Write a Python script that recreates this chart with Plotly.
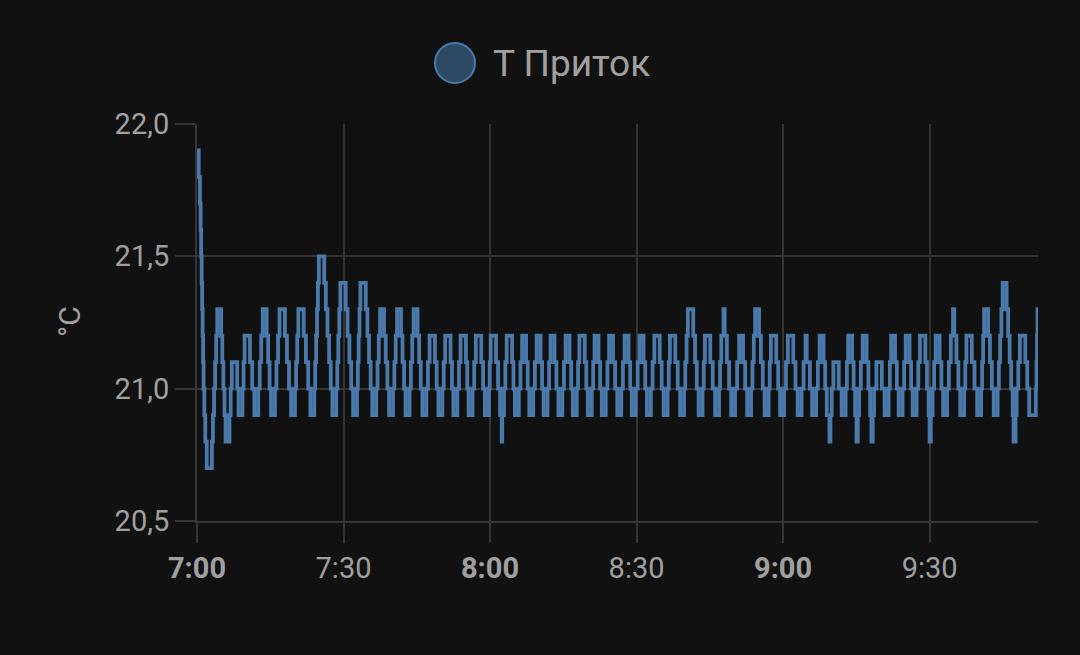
import pandas as pd
import plotly.graph_objects as go

# Change points of the sensor reading: minutes after 7:00 and temperature (°C)
minutes = [
    0.05, 0.35, 0.6, 0.75, 0.85, 0.95, 1.05, 1.15, 1.25, 1.35, 1.5, 1.7, 2.0,
    3.05, 3.27, 3.49, 3.71, 3.93, 4.15, 4.95, 5.18, 5.4, 5.63, 5.85,
    6.65, 6.89, 7.13, 8.23, 8.51,
    9.31, 9.53, 9.75, 10.85, 11.3, 11.74,
    12.54, 12.85, 13.15, 13.46, 14.26, 14.56, 14.86, 15.16,
    15.96, 16.27, 16.59, 16.9, 18.0, 18.42, 18.84, 19.26,
    20.06, 20.29, 20.52, 20.75, 21.85, 22.3, 22.76, 23.21,
    24.01, 24.2, 24.39, 24.58, 24.76, 24.95, 26.05, 26.38, 26.72, 27.05, 27.39, 27.72,
    28.52, 28.73, 28.94, 29.14, 29.35, 30.45, 30.83, 31.21, 31.58, 31.96,
    32.76, 32.93, 33.1, 33.28, 33.45, 34.55, 34.89, 35.22, 35.56, 35.89,
    36.69, 36.96, 37.22, 37.49, 38.29, 38.64, 38.98, 39.33,
    40.13, 40.41, 40.69, 40.97, 41.77, 42.08, 42.4, 42.71,
    43.51, 43.79, 44.07, 44.35, 45.15, 45.48, 45.82, 46.15,
    46.95, 47.29, 47.62, 48.72, 49.08, 49.43,
    50.23, 50.52, 50.81, 51.91, 52.21, 52.5,
    53.3, 53.64, 53.97, 55.07, 55.34, 55.61,
    56.41, 56.76, 57.1, 58.2, 58.58, 58.95,
    59.75, 59.94, 60.13, 61.23, 61.65, 62.06, 62.4, 62.5,
    62.86, 63.14, 63.41, 64.51, 64.8, 65.09,
    65.89, 66.23, 66.57, 67.37, 67.71, 68.04,
    68.84, 69.19, 69.54, 70.34, 70.66, 70.97,
    71.77, 72.09, 72.4, 73.2, 73.6, 74.0,
    74.8, 75.14, 75.48, 76.28, 76.62, 76.95,
    77.75, 78.02, 78.29, 79.39, 79.71, 80.02,
    80.82, 81.12, 81.41, 82.21, 82.55, 82.89,
    83.69, 84.04, 84.38, 85.18, 85.62, 86.06,
    86.86, 87.21, 87.56, 88.36, 88.7, 89.03,
    89.83, 90.23, 90.63, 91.43, 91.78, 92.13,
    92.93, 93.29, 93.65, 94.75, 95.15, 95.55,
    96.35, 96.59, 96.83, 97.93, 98.43, 98.92,
    99.72, 99.98, 100.25, 100.51, 101.61, 101.98, 102.34, 102.71,
    103.51, 103.76, 104.0, 105.1, 105.6, 106.09,
    106.89, 107.1, 107.35, 107.8, 108.05, 108.5, 108.95, 109.37,
    110.17, 110.59, 111.01, 111.81, 112.23, 112.65,
    113.45, 113.73, 114.0, 114.28, 115.08, 115.46, 115.85, 116.23,
    117.03, 117.27, 117.51, 118.61, 119.0, 119.4,
    120.2, 120.6, 120.99, 122.09, 122.54, 122.99,
    123.79, 124.2, 124.6, 124.84, 125.5, 125.96,
    126.76, 127.12, 127.49, 128.29, 128.62, 128.95, 129.5, 129.7,
    129.95, 130.3, 131.4, 132.0,
    132.8, 133.07, 133.33, 134.13, 134.45, 134.76, 135.05, 135.3,
    135.56, 135.93, 136.3, 137.1, 137.47, 137.83, 138.1, 138.35,
    138.63, 139.12, 140.22, 140.8,
    141.6, 141.87, 142.13, 142.93, 143.3, 143.67,
    144.47, 144.79, 145.1, 145.9, 146.22, 146.54,
    147.34, 147.69, 148.03, 149.13, 149.47, 149.81, 150.0, 150.25,
    150.61, 150.93, 151.25, 152.05, 152.42, 152.78,
    153.58, 153.95, 154.35, 154.8, 155.05, 155.5, 155.9, 156.27,
    157.07, 157.31, 157.55, 158.65, 159.2, 159.75,
    160.55, 160.76, 160.97, 161.18, 161.98, 162.36, 162.75, 163.13,
    163.93, 164.19, 164.45, 164.71, 164.97, 165.77, 166.08, 166.4, 166.71, 167.02, 167.2, 167.6,
    167.82, 168.16, 168.5, 169.6, 170.0, 170.4,
    171.75, 171.9, 172.0, 172.1, 172.4,
]
temps = [
    21.9, 21.8, 21.7, 21.6, 21.5, 21.4, 21.3, 21.2, 21.1, 21.0, 20.9, 20.8, 20.7,
    20.8, 20.9, 21.0, 21.1, 21.2, 21.3, 21.2, 21.1, 21.0, 20.9, 20.8,
    20.9, 21.0, 21.1, 21.0, 20.9,
    21.0, 21.1, 21.2, 21.1, 21.0, 20.9,
    21.0, 21.1, 21.2, 21.3, 21.2, 21.1, 21.0, 20.9,
    21.0, 21.1, 21.2, 21.3, 21.2, 21.1, 21.0, 20.9,
    21.0, 21.1, 21.2, 21.3, 21.2, 21.1, 21.0, 20.9,
    21.0, 21.1, 21.2, 21.3, 21.4, 21.5, 21.4, 21.3, 21.2, 21.1, 21.0, 20.9,
    21.0, 21.1, 21.2, 21.3, 21.4, 21.3, 21.2, 21.1, 21.0, 20.9,
    21.0, 21.1, 21.2, 21.3, 21.4, 21.3, 21.2, 21.1, 21.0, 20.9,
    21.0, 21.1, 21.2, 21.3, 21.2, 21.1, 21.0, 20.9,
    21.0, 21.1, 21.2, 21.3, 21.2, 21.1, 21.0, 20.9,
    21.0, 21.1, 21.2, 21.3, 21.2, 21.1, 21.0, 20.9,
    21.0, 21.1, 21.2, 21.1, 21.0, 20.9,
    21.0, 21.1, 21.2, 21.1, 21.0, 20.9,
    21.0, 21.1, 21.2, 21.1, 21.0, 20.9,
    21.0, 21.1, 21.2, 21.1, 21.0, 20.9,
    21.0, 21.1, 21.2, 21.1, 21.0, 20.9, 20.8, 20.9,
    21.0, 21.1, 21.2, 21.1, 21.0, 20.9,
    21.0, 21.1, 21.2, 21.1, 21.0, 20.9,
    21.0, 21.1, 21.2, 21.1, 21.0, 20.9,
    21.0, 21.1, 21.2, 21.1, 21.0, 20.9,
    21.0, 21.1, 21.2, 21.1, 21.0, 20.9,
    21.0, 21.1, 21.2, 21.1, 21.0, 20.9,
    21.0, 21.1, 21.2, 21.1, 21.0, 20.9,
    21.0, 21.1, 21.2, 21.1, 21.0, 20.9,
    21.0, 21.1, 21.2, 21.1, 21.0, 20.9,
    21.0, 21.1, 21.2, 21.1, 21.0, 20.9,
    21.0, 21.1, 21.2, 21.1, 21.0, 20.9,
    21.0, 21.1, 21.2, 21.1, 21.0, 20.9,
    21.0, 21.1, 21.2, 21.3, 21.2, 21.1, 21.0, 20.9,
    21.0, 21.1, 21.2, 21.1, 21.0, 20.9,
    21.0, 21.1, 21.2, 21.3, 21.2, 21.1, 21.0, 20.9,
    21.0, 21.1, 21.2, 21.1, 21.0, 20.9,
    21.0, 21.1, 21.2, 21.3, 21.2, 21.1, 21.0, 20.9,
    21.0, 21.1, 21.2, 21.1, 21.0, 20.9,
    21.0, 21.1, 21.2, 21.1, 21.0, 20.9,
    21.0, 21.1, 21.2, 21.1, 21.0, 20.9,
    21.0, 21.1, 21.2, 21.1, 21.0, 20.9, 20.8, 20.9,
    21.0, 21.1, 21.0, 20.9,
    21.0, 21.1, 21.2, 21.1, 21.0, 20.9, 20.8, 20.9,
    21.0, 21.1, 21.2, 21.1, 21.0, 20.9, 20.8, 20.9,
    21.0, 21.1, 21.0, 20.9,
    21.0, 21.1, 21.2, 21.1, 21.0, 20.9,
    21.0, 21.1, 21.2, 21.1, 21.0, 20.9,
    21.0, 21.1, 21.2, 21.1, 21.0, 20.9, 20.8, 20.9,
    21.0, 21.1, 21.2, 21.1, 21.0, 20.9,
    21.0, 21.1, 21.2, 21.3, 21.2, 21.1, 21.0, 20.9,
    21.0, 21.1, 21.2, 21.1, 21.0, 20.9,
    21.0, 21.1, 21.2, 21.3, 21.2, 21.1, 21.0, 20.9,
    21.0, 21.1, 21.2, 21.3, 21.4, 21.3, 21.2, 21.1, 21.0, 20.9, 20.8, 20.9,
    21.0, 21.1, 21.2, 21.1, 21.0, 20.9,
    21.0, 21.1, 21.2, 21.3, 21.3,
]

series_name = "Т Приток"
y_unit = "°C"
y_tick_vals = [20.5, 21.0, 21.5, 22.0]
y_tick_text = ["20,5", "21,0", "21,5", "22,0"]
x_tick_minutes = [0, 30, 60, 90, 120, 150]
x_tick_text = ["<b>7:00</b>", "7:30", "<b>8:00</b>", "8:30", "<b>9:00</b>", "9:30"]
x_end_minutes = 172.2

assert len(minutes) == len(temps)

base = pd.Timestamp("2024-01-15 07:00:00")
times = base + pd.to_timedelta(minutes, unit="min")
tick_times = base + pd.to_timedelta(x_tick_minutes, unit="min")

LINE = "#4a7aab"
GRID = "#353535"
TXT = "#a0a0a0"
FONT = "Roboto"

fig = go.Figure()
fig.add_trace(go.Scatter(
    x=times, y=temps, mode="lines", name=series_name,
    line=dict(color=LINE, width=3.8, shape="hv"),
    showlegend=False, hoverinfo="skip",
))

L, R, T, B = 197, 42, 124, 134
W, H = 1080, 655
pw = W - L - R
ph = H - T - B

fig.update_layout(
    width=W, height=H,
    margin=dict(l=L, r=R, t=T, b=B, pad=0),
    paper_bgcolor="#111111", plot_bgcolor="#111111",
    font=dict(family=FONT, color=TXT, size=30),
    showlegend=False,
)
fig.update_xaxes(
    type="date",
    range=[base, base + pd.Timedelta(minutes=x_end_minutes)],
    tickmode="array", tickvals=tick_times, ticktext=x_tick_text,
    showgrid=True, gridcolor=GRID, gridwidth=2,
    showline=True, linecolor=GRID, linewidth=2,
    ticks="outside", ticklen=20, tickwidth=2, tickcolor=GRID,
    tickfont=dict(family=FONT, size=29, color=TXT),
    zeroline=False, fixedrange=True,
)
fig.update_yaxes(
    range=[20.5, 22.0],
    tickmode="array", tickvals=y_tick_vals, ticktext=y_tick_text,
    showgrid=True, gridcolor=GRID, gridwidth=2,
    showline=True, linecolor=GRID, linewidth=2,
    ticks="outside", ticklen=20, tickwidth=2, tickcolor=GRID,
    tickfont=dict(family=FONT, size=29, color=TXT),
    zeroline=False, fixedrange=True,
)

# legend (drawn manually to get the large circle marker)
cx = (455 - L) / pw
cy = (H - B - 63) / ph
fig.add_shape(
    type="circle", xref="paper", yref="paper",
    xsizemode="pixel", ysizemode="pixel",
    xanchor=cx, yanchor=cy, x0=-20, x1=20, y0=-20, y1=20,
    fillcolor="#2e4963", line=dict(color=LINE, width=2),
)
fig.add_annotation(
    text=series_name, xref="paper", yref="paper",
    x=(491 - L) / pw, y=cy, xanchor="left", yanchor="middle",
    showarrow=False, font=dict(family=FONT, size=37, color=TXT),
)
fig.add_annotation(
    text=y_unit, xref="paper", yref="paper",
    x=(69 - L) / pw, y=(H - B - 322) / ph, xanchor="center", yanchor="middle",
    textangle=-90, showarrow=False, font=dict(family=FONT, size=30, color=TXT),
)

fig.write_html(
    "out.html",
    config={"displayModeBar": False},
    post_script="document.body.style.margin='0';document.body.style.background='#111111';",
)
